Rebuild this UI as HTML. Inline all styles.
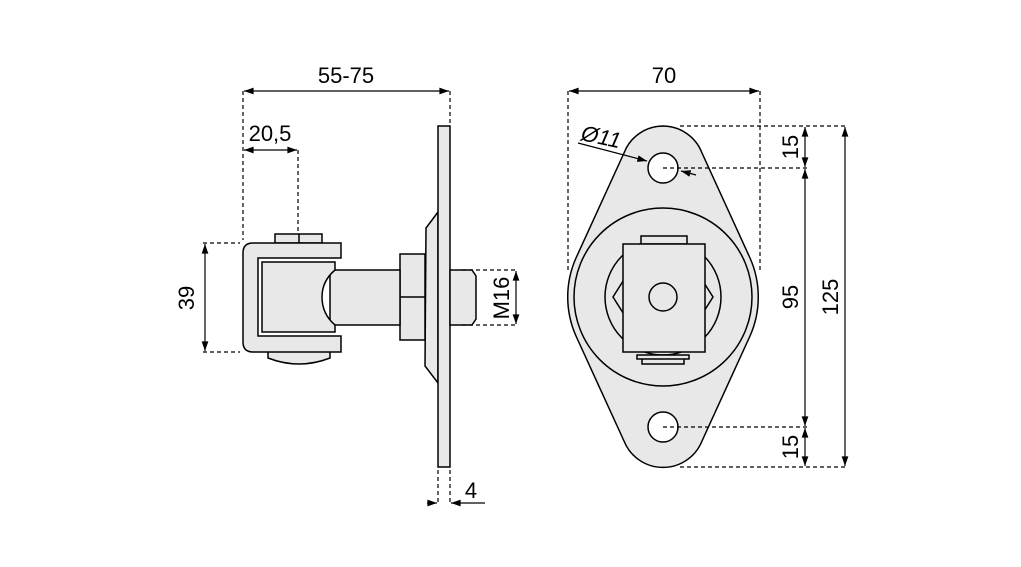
<!DOCTYPE html>
<html><head><style>body{margin:0;background:#fff}svg{display:block}text{font-family:"Liberation Sans",sans-serif;font-size:22px;fill:#000}</style></head><body>
<svg width="1021" height="567" viewBox="0 0 1021 567">
<defs><marker id="a" viewBox="0 0 10 10" refX="10" refY="5" markerWidth="10" markerHeight="8" orient="auto-start-reverse"><path d="M0,1.5 L10,5 L0,8.5z" fill="#000"/></marker></defs>
<g fill="#e8e8e8" stroke="#000" stroke-width="1.5">
<!-- left view -->
<path d="M438,212 L426,228 L425,366 L438,383z"/>
<rect x="438" y="126" width="12" height="341"/>
<rect x="400" y="254" width="25" height="86"/><line x1="400" y1="297" x2="425" y2="297"/>
<path d="M450,270 L472,270 L476,276 L476,319 L472,325 L450,325z"/>
<rect x="330" y="270" width="70" height="55"/>
<path d="M275,243 L275,234 L322,234 L322,243z"/><line x1="299" y1="234" x2="299" y2="243"/>
<path d="M268,350 L268,358 Q299,370 330,358 L330,350z"/>
<path d="M253,243 L341,243 L341,258 L258,258 L258,336 L341,336 L341,352 L253,352 Q243,352 243,342 L243,253 Q243,243 253,243z"/>
<path d="M262,262 L335,262 L335,270 Q322,281 322,297 Q322,314 335,325 L335,332 L262,332z"/>
<!-- right view -->
<path d="M663,126 A42,42 0 0 1 702,153 L750,258 A96,96 0 0 1 750,336 L702,441 A42,42 0 0 1 624,441 L576,336 A96,96 0 0 1 576,258 L624,153 A42,42 0 0 1 663,126z"/>
<circle cx="663" cy="297" r="89"/>
<circle cx="663" cy="297" r="58"/>
<path d="M625,278 L613,297 L625,316 M701,278 L713,297 L701,316" fill="none"/>
<rect x="641" y="236" width="46" height="8"/>
<rect x="623" y="244" width="82" height="108"/>
<rect x="642" y="356" width="42" height="8"/><rect x="637" y="355" width="52" height="4"/>
<circle cx="663" cy="297" r="14"/>
<circle cx="663" cy="168" r="15" fill="#fff"/>
<circle cx="663" cy="427" r="15" fill="#fff"/>
</g>
<g stroke="#000" stroke-width="1.2" fill="none" stroke-dasharray="4,3">
<path d="M243,91 V240 M450,91 V125 M298,150 V234 M203,243 H240 M203,352 H240 M462,270 H518 M462,325 H518 M438,470 V503 M450,470 V503"/>
<path d="M568,91 V272 M760,91 V272 M680,126 H848 M663,168 H808 M663,427 H808 M680,467 H848"/>
</g>
<g stroke="#000" stroke-width="1.2" fill="none">
<path d="M244,91 H449" marker-start="url(#a)" marker-end="url(#a)"/>
<path d="M244,150 H297" marker-start="url(#a)" marker-end="url(#a)"/>
<path d="M205,244 V351" marker-start="url(#a)" marker-end="url(#a)"/>
<path d="M516,271 V324" marker-start="url(#a)" marker-end="url(#a)"/>
<path d="M427,503 H437" marker-end="url(#a)"/><path d="M485,503 H451" marker-end="url(#a)"/>
<path d="M569,91 H759" marker-start="url(#a)" marker-end="url(#a)"/>
<path d="M845,127 V466" marker-start="url(#a)" marker-end="url(#a)"/>
<path d="M805,127 V167" marker-start="url(#a)" marker-end="url(#a)"/>
<path d="M805,169 V426" marker-start="url(#a)" marker-end="url(#a)"/>
<path d="M805,428 V466" marker-start="url(#a)" marker-end="url(#a)"/>
<path d="M578,143 L647,161" marker-end="url(#a)"/>
<path d="M696,175 L681,171" marker-end="url(#a)"/>
</g>
<text x="346" y="83" text-anchor="middle">55-75</text>
<text x="270" y="141" text-anchor="middle">20,5</text>
<text x="664" y="83" text-anchor="middle">70</text>
<text x="471" y="498" text-anchor="middle">4</text>
<text x="580" y="140" font-style="italic" transform="rotate(12 580 140)">Ø11</text>
<text transform="translate(194,298) rotate(-90)" text-anchor="middle">39</text>
<text transform="translate(509,298) rotate(-90)" text-anchor="middle">M16</text>
<text transform="translate(798,147) rotate(-90)" text-anchor="middle">15</text>
<text transform="translate(798,297) rotate(-90)" text-anchor="middle">95</text>
<text transform="translate(798,447) rotate(-90)" text-anchor="middle">15</text>
<text transform="translate(838,297) rotate(-90)" text-anchor="middle">125</text>
</svg>
</body></html>
